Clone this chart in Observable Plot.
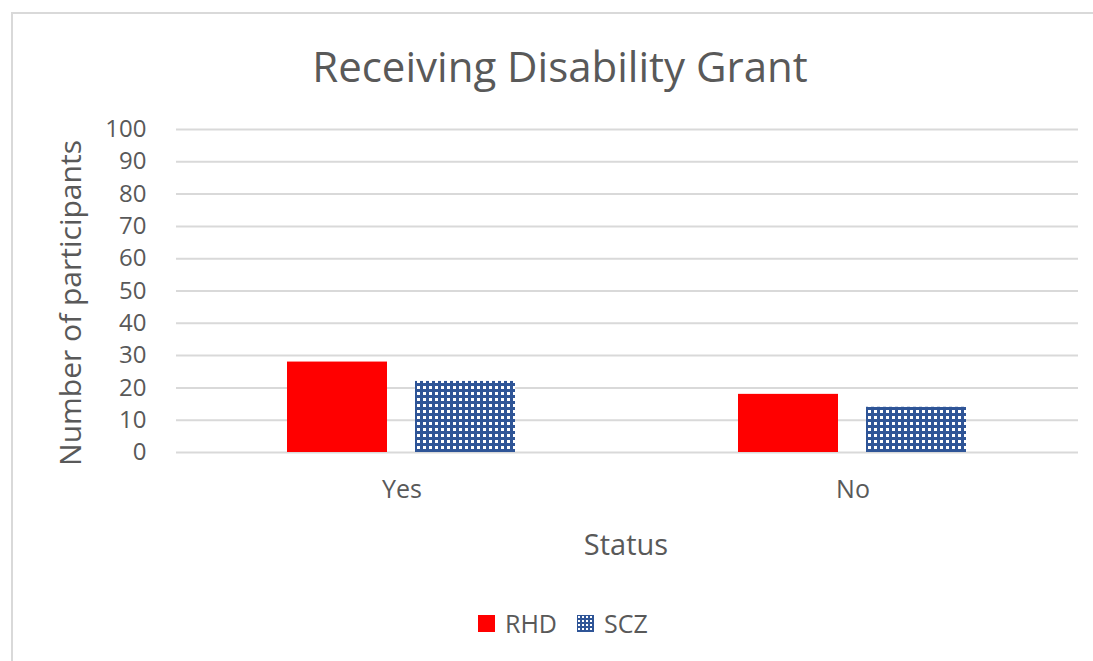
<!DOCTYPE html>
<html>
<head>
<meta charset="utf-8">
<script src="https://cdn.jsdelivr.net/npm/d3@7"></script>
<script src="https://cdn.jsdelivr.net/npm/@observablehq/plot@0.6"></script>
<style>
  html, body { margin: 0; padding: 0; background: #fff; overflow: hidden; }
  #chart { position: relative; width: 1093px; height: 661px; overflow: hidden; font-family: "Open Sans", sans-serif; color: #595959; }
  #frame { position: absolute; left: 11px; top: 12px; width: 1082px; height: 649px; border-top: 2px solid #d9d9d9; border-left: 2px solid #d9d9d9; box-sizing: border-box; }
  #title { position: absolute; left: 560px; top: 66px; transform: translate(-50%, -50%); font-size: 42px; line-height: 1; white-space: nowrap; }
  #ylabel { position: absolute; left: 70px; top: 303px; transform: translate(-50%, -50%) rotate(-90deg); font-size: 30px; white-space: nowrap; line-height: 1; }
  #xlabel { position: absolute; left: 626px; top: 543px; transform: translate(-50%, -50%); font-size: 29px; line-height: 1; }
  #legend { position: absolute; left: 478px; top: 611px; display: flex; align-items: center; font-size: 25px; line-height: 1; }
  #legend .sw { width: 17px; height: 17px; margin-right: 10px; }
  #legend .item { display: flex; align-items: center; margin-right: 20px; }
  #plot { position: absolute; left: 0; top: 0; }
</style>
</head>
<body>
<div id="chart">
  <div id="frame"></div>
  <div id="plot"></div>
  <div id="title">Receiving Disability Grant</div>
  <div id="ylabel">Number of participants</div>
  <div id="xlabel">Status</div>
  <div id="legend"></div>
</div>
<script>
const statuses = ["Yes", "No"];
const seriesNames = ["RHD", "SCZ"];
const rhdValues = [28, 18];
const sczValues = [22, 14];
const yTicks = [0, 10, 20, 30, 40, 50, 60, 70, 80, 90, 100];

const data = [];
statuses.forEach((s, i) => {
  data.push({status: s, series: "RHD", value: rhdValues[i]});
  data.push({status: s, series: "SCZ", value: sczValues[i]});
});

const fills = {RHD: "#ff0000", SCZ: "url(#sczPattern)"};

const plot = Plot.plot({
  width: 1093,
  height: 661,
  marginTop: 129,
  marginBottom: 209,
  marginLeft: 175,
  marginRight: 15,
  style: {fontFamily: "Open Sans, sans-serif", fontSize: "24px", color: "#595959", background: "transparent"},
  fx: {domain: statuses, padding: 0, label: null, axis: null},
  x: {domain: seriesNames, paddingInner: 28 / 129, paddingOuter: 0.858, axis: null},
  y: {domain: [0, 100], axis: null},
  marks: [
    Plot.ruleY(yTicks, {stroke: "#d9d9d9", strokeWidth: 2}),
    Plot.barY(data, {fx: "status", x: "series", y: "value", fill: d => fills[d.series]}),
    Plot.axisY({ticks: yTicks, tickSize: 0, tickPadding: 30, label: null, fontSize: 24, fill: "#595959"}),
    Plot.axisFx({anchor: "bottom", tickSize: 0, tickPadding: 28, label: null, fontSize: 25, fill: "#595959"})
  ]
});

// pattern definition
const ns = "http://www.w3.org/2000/svg";
const defs = document.createElementNS(ns, "defs");
defs.innerHTML = `<pattern id="sczPattern" patternUnits="userSpaceOnUse" width="6" height="6">
  <rect width="6" height="6" fill="#2f5597"/>
  <rect x="2" y="2" width="3" height="3" fill="#ffffff"/>
</pattern>`;
plot.insertBefore(defs, plot.firstChild);
document.getElementById("plot").appendChild(plot);

// legend
const legend = document.getElementById("legend");
seriesNames.forEach(name => {
  const item = document.createElement("div");
  item.className = "item";
  const sw = document.createElementNS(ns, "svg");
  sw.setAttribute("width", 17); sw.setAttribute("height", 17);
  sw.setAttribute("class", "sw");
  sw.innerHTML = name === "RHD"
    ? `<rect width="17" height="17" fill="#ff0000"/>`
    : `<defs><pattern id="legPat" patternUnits="userSpaceOnUse" width="4" height="4"><rect width="4" height="4" fill="#2f5597"/><rect x="1" y="1" width="2" height="2" fill="#fff"/></pattern></defs><rect width="17" height="17" fill="url(#legPat)"/>`;
  item.appendChild(sw);
  const t = document.createElement("span");
  t.textContent = name;
  item.appendChild(t);
  legend.appendChild(item);
});
</script>
</body>
</html>
